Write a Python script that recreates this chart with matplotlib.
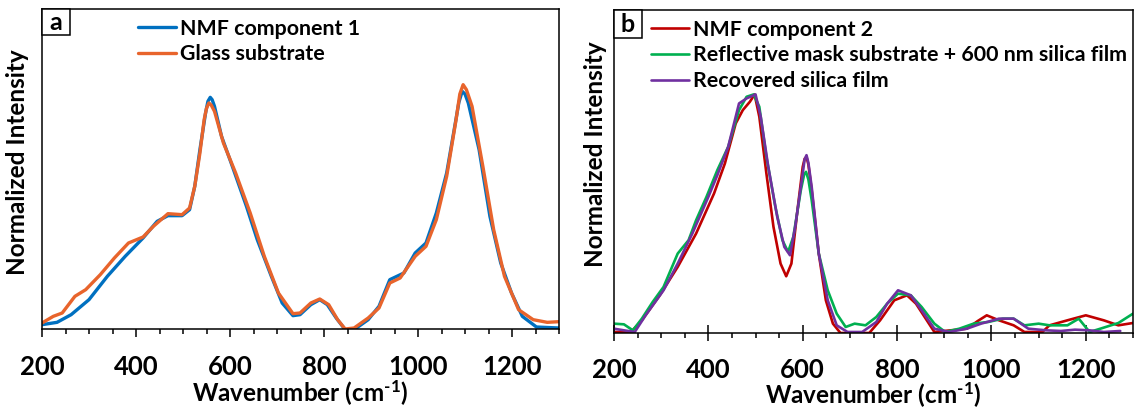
import matplotlib
matplotlib.use("Agg")
import matplotlib.pyplot as plt
from matplotlib.patches import Rectangle
from matplotlib.ticker import MultipleLocator
import numpy as np

plt.rcParams['font.family'] = ['Lato', 'DejaVu Sans']
plt.rcParams['font.weight'] = 'bold'
plt.rcParams['mathtext.fontset'] = 'custom'
plt.rcParams['mathtext.rm'] = 'Lato:bold'
plt.rcParams['mathtext.bf'] = 'Lato:bold'
plt.rcParams['mathtext.it'] = 'Lato:bold'

# ---------------- Panel a data ----------------
a_nmf1_x = [200, 232, 262, 300, 339, 377, 415, 445, 468, 498, 514, 525, 536, 548, 553, 558, 562, 567, 582, 605,
            635, 658, 688, 711, 734, 749, 772, 791, 807, 826, 845, 864, 894, 917, 940, 955, 970, 994,
            1017, 1039, 1061, 1077, 1087, 1094, 1100, 1107, 1130, 1153, 1176, 1199, 1222, 1252, 1300]
a_nmf1_y = [13, 20, 43, 88, 158, 218, 273, 323, 340, 340, 358, 428, 538, 648, 683, 695, 688, 668, 578, 488,
            368, 268, 158, 78, 40, 43, 73, 88, 73, 33, -2, -2, 28, 68, 148, 158, 168, 228,
            258, 348, 468, 598, 680, 713, 705, 678, 538, 338, 198, 108, 38, 6, 3]
a_glass_x = [200, 224, 243, 270, 293, 324, 354, 384, 415, 437, 468, 498, 514, 525, 536, 545, 550, 555, 560, 567,
             586, 612, 643, 673, 703, 734, 749, 772, 791, 810, 829, 845, 864, 894, 917, 940, 962, 994,
             1017, 1039, 1061, 1081, 1089, 1096, 1103, 1115, 1138, 1161, 1184, 1214, 1245, 1275, 1300]
a_glass_y = [18, 38, 48, 98, 118, 163, 213, 258, 276, 308, 346, 343, 363, 428, 528, 628, 662, 678, 672, 653,
             558, 468, 348, 218, 108, 46, 48, 78, 90, 73, 28, 0, 3, 33, 63, 138, 153, 218,
             248, 328, 458, 628, 705, 733, 718, 668, 488, 298, 158, 58, 28, 20, 22]

# ---------------- Panel b data ----------------
b_nmf2_x = [200, 236, 259, 297, 335, 374, 412, 435, 458, 473, 488, 498, 508, 523, 538, 553, 565, 576,
            588, 600, 604, 608, 612, 619, 634, 649, 664, 680, 741, 764, 794, 821, 840, 863, 879, 948, 971, 990,
            1016, 1047, 1070, 1108, 1123, 1161, 1200, 1238, 1269, 1300]
b_nmf2_y = [3, 3, 38, 113, 198, 298, 418, 508, 628, 668, 693, 715, 648, 478, 318, 208, 170, 208,
            358, 498, 522, 528, 505, 428, 238, 98, 28, 0, 0, 38, 98, 113, 88, 38, 3, 13, 36, 53,
            38, 23, 3, 3, 23, 38, 53, 38, 23, 30]
b_mask_x = [200, 221, 240, 259, 282, 305, 335, 358, 374, 396, 419, 442, 465, 481, 496, 508, 523, 542,
            557, 569, 580, 596, 603, 607, 612, 619, 634, 653, 672, 691, 710, 733, 756, 779, 802, 829, 852, 879,
            902, 932, 962, 993, 1024, 1047, 1070, 1100, 1123, 1161, 1185, 1208, 1231, 1269, 1300]
b_mask_y = [28, 26, 8, 43, 93, 138, 238, 278, 338, 408, 488, 558, 668, 708, 715, 678, 528, 378,
            278, 243, 288, 428, 475, 483, 460, 398, 238, 128, 58, 18, 28, 23, 48, 88, 118, 113, 78, 28,
            3, 13, 28, 33, 43, 43, 23, 28, 23, 23, 43, 3, 13, 30, 58]
b_rec_x = [200, 221, 244, 267, 305, 335, 366, 400, 419, 442, 465, 481, 500, 511, 527, 546, 561, 573,
           584, 600, 604, 608, 612, 619, 634, 653, 672, 695, 726, 756, 779, 802, 829, 852, 879, 910, 948, 978,
           1016, 1047, 1078, 1116, 1147, 1177, 1208, 1238, 1273]
b_rec_y = [13, 8, 3, 53, 128, 208, 298, 408, 473, 558, 688, 703, 715, 648, 498, 348, 258, 233,
           318, 478, 520, 533, 510, 438, 238, 98, 23, 3, 3, 33, 88, 128, 113, 68, 13, 3, 13, 28,
           43, 43, 13, 8, 6, 10, 8, 3, 6]

a_scale = 733.0
b_scale = 715.0
xticks = [200, 400, 600, 800, 1000, 1200]

col_blue = '#0070C0'
col_orange = '#E8642C'
col_red = '#C00000'
col_green = '#00B050'
col_purple = '#7030A0'

W, H = 1136, 412
fig = plt.figure(figsize=(W / 100, H / 100), dpi=100)

ax1 = fig.add_axes([42 / W, (H - 329) / H, 517 / W, 320 / H])
ax2 = fig.add_axes([614 / W, (H - 333) / H, 519 / W, 323 / H])

fs = 15.4
tfs = 18.5

kw = dict(solid_joinstyle='round', solid_capstyle='round')
ax1.plot(a_nmf1_x, np.array(a_nmf1_y) / a_scale, color=col_blue, lw=2.4, label='NMF component 1', **kw)
ax1.plot(a_glass_x, np.array(a_glass_y) / a_scale, color=col_orange, lw=2.4, label='Glass substrate', **kw)
ax1.set_ylim(0, 960 / a_scale)

ax2.plot(b_nmf2_x, np.array(b_nmf2_y) / b_scale, color=col_red, lw=1.9, label='NMF component 2', **kw)
ax2.plot(b_mask_x, np.array(b_mask_y) / b_scale, color=col_green, lw=1.9,
         label='Reflective mask substrate + 600 nm silica film', **kw)
ax2.plot(b_rec_x, np.array(b_rec_y) / b_scale, color=col_purple, lw=1.9, label='Recovered silica film', **kw)
ax2.set_ylim(0, 968 / b_scale)

for ax, maj_dir, maj_len, ypad, lpad in [(ax1, 'out', 5.5, 13.5, -0.5), (ax2, 'inout', 11, 12.5, -1)]:
    ax.set_xlim(200, 1300)
    ax.set_xticks(xticks)
    ax.xaxis.set_minor_locator(MultipleLocator(50))
    ax.tick_params(axis='x', which='major', direction=maj_dir, length=maj_len, width=1.1,
                   labelsize=tfs, pad=ypad)
    ax.tick_params(axis='x', which='minor', direction='out', length=3.8, width=1.1)
    ax.set_yticks([])
    for s in ax.spines.values():
        s.set_linewidth(1.1)
        s.set_color('black')
    for lab in ax.get_xticklabels():
        lab.set_fontweight('bold')
    ax.set_xlabel('Wavenumber (cm$^{\\text{-1}}$)', fontsize=17.5, fontweight='bold', labelpad=lpad)
    ax.set_ylabel('Normalized Intensity', fontsize=17.5, fontweight='bold')

ax1.yaxis.set_label_coords(-0.025, 0.52)
ax2.yaxis.set_label_coords(-0.0135, 0.554)

leg1 = ax1.legend(loc='upper left', bbox_to_anchor=(0.17, 0.997), frameon=False, fontsize=fs,
                  handlelength=1.75, handletextpad=0.2, labelspacing=0.27, borderaxespad=0)
leg2 = ax2.legend(loc='upper left', bbox_to_anchor=(0.055, 0.997), frameon=False, fontsize=fs,
                  handlelength=1.75, handletextpad=0.2, labelspacing=0.27, borderaxespad=0)
for leg in (leg1, leg2):
    for t in leg.get_texts():
        t.set_fontweight('bold')

# panel letters
for ax, letter, w, h in [(ax1, 'a', 28 / 517, 26 / 320), (ax2, 'b', 28 / 519, 28 / 323)]:
    ax.add_patch(Rectangle((0, 1 - h), w, h, transform=ax.transAxes, facecolor='white',
                           edgecolor='black', lw=1.1, zorder=5, clip_on=False))
    ax.text(w / 2, 1 - h / 2, letter, transform=ax.transAxes, ha='center', va='center',
            fontsize=18, fontweight='bold', zorder=6)

fig.savefig('out.png', dpi=100)
